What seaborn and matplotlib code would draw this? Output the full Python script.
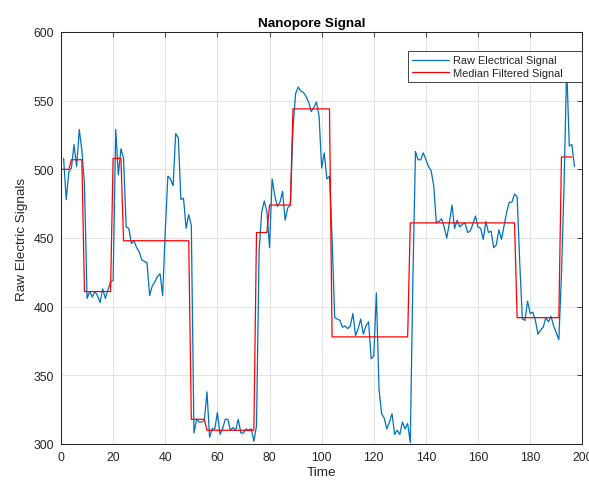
import matplotlib

matplotlib.use("Agg")

import matplotlib.pyplot as plt
import numpy as np
import pandas as pd
import seaborn as sns


# raw samples (time = 1..197)
RAW_SIGNAL = [
    508, 478, 498, 501, 518, 502, 529, 514, 489, 406,
    411, 407, 411, 408, 403, 413, 406, 412, 418, 419,
    529, 496, 515, 508, 458, 457, 446, 448, 443, 440,
    434, 433, 432, 408, 415, 418, 422, 424, 408, 455,
    495, 493, 488, 526, 523, 478, 479, 457, 467, 459,
    308, 318, 316, 316, 317, 338, 305, 311, 311, 323,
    307, 311, 318, 318, 310, 312, 310, 318, 308, 308,
    311, 310, 311, 302, 313, 440, 469, 477, 469, 443,
    493, 481, 473, 476, 484, 463, 472, 474, 530, 555,
    560, 557, 556, 553, 549, 542, 545, 549, 539, 501,
    512, 493, 495, 450, 392, 391, 390, 385, 386, 384,
    386, 395, 379, 384, 391, 380, 386, 389, 362, 364,
    410, 340, 322, 319, 311, 316, 322, 307, 310, 307,
    316, 311, 315, 301, 420, 513, 507, 507, 512, 507,
    502, 499, 488, 461, 462, 464, 458, 450, 461, 474,
    457, 463, 458, 460, 461, 454, 455, 460, 466, 458,
    457, 449, 462, 454, 455, 443, 445, 456, 449, 459,
    469, 476, 476, 482, 480, 432, 391, 390, 404, 395,
    396, 390, 380, 383, 385, 392, 389, 393, 386, 381,
    376, 423, 488, 575, 517, 518, 502,
]

# median filtered signal as flat segments (time = 0..196)
FILTER_LEVELS = [500, 507, 411, 508, 448, 318, 310, 454, 474, 544, 378, 461, 392, 509]
FILTER_LENGTHS = [4, 5, 11, 4, 26, 6, 19, 5, 9, 15, 30, 41, 17, 5]

X_TICKS = [0, 20, 40, 60, 80, 100, 120, 140, 160, 180, 200]
Y_TICKS = [300, 350, 400, 450, 500, 550, 600]

raw = pd.DataFrame({"time": np.arange(1, len(RAW_SIGNAL) + 1), "signal": RAW_SIGNAL})
filtered = pd.DataFrame(
    {
        "time": np.arange(sum(FILTER_LENGTHS)),
        "signal": np.repeat(FILTER_LEVELS, FILTER_LENGTHS),
    }
)

sns.set_theme(style="white")
plt.rcParams["font.family"] = ["Liberation Sans", "DejaVu Sans"]

fig = plt.figure(figsize=(5.89, 4.81), dpi=100)
ax = fig.add_axes([61 / 589, 1 - 445 / 481, 521.3 / 589, 412 / 481])

sns.lineplot(data=raw, x="time", y="signal", color="#0072BD", linewidth=0.9,
             label="Raw Electrical Signal", ax=ax)
sns.lineplot(data=filtered, x="time", y="signal", color="#FF0000", linewidth=0.9,
             label="Median Filtered Signal", ax=ax)

ax.set_xlim(0, 200)
ax.set_ylim(300, 600)
ax.set_xticks(X_TICKS)
ax.set_yticks(Y_TICKS)
ax.grid(True, color="#dfdfdf", linewidth=0.6)
ax.set_axisbelow(True)
for spine in ax.spines.values():
    spine.set_color("#262626")
    spine.set_linewidth(0.75)
ax.tick_params(direction="in", length=3.5, width=0.6, color="#262626",
               labelcolor="#262626", labelsize=8.8, top=True, right=True, pad=5)

ax.set_title("Nanopore Signal", fontsize=9.7, fontweight="bold", color="black",
             x=0.4815, pad=4.5)
ax.set_xlabel("Time", fontsize=9.7, color="#262626", labelpad=2)
ax.set_ylabel("Raw Electric Signals", fontsize=9.7, color="#262626", labelpad=4)

leg = ax.legend(loc="upper left", bbox_to_anchor=(0.6656, 0.0, 0.3344, 0.9539),
                mode="expand", borderaxespad=0, fontsize=7.9, frameon=True,
                fancybox=False, edgecolor="#262626", framealpha=1,
                borderpad=0.4, labelspacing=0.2, handlelength=3.3, handletextpad=0.4)
leg.get_frame().set_linewidth(0.6)
for text in leg.get_texts():
    text.set_color("#262626")

fig.savefig("out.png", dpi=100)
plt.close(fig)
